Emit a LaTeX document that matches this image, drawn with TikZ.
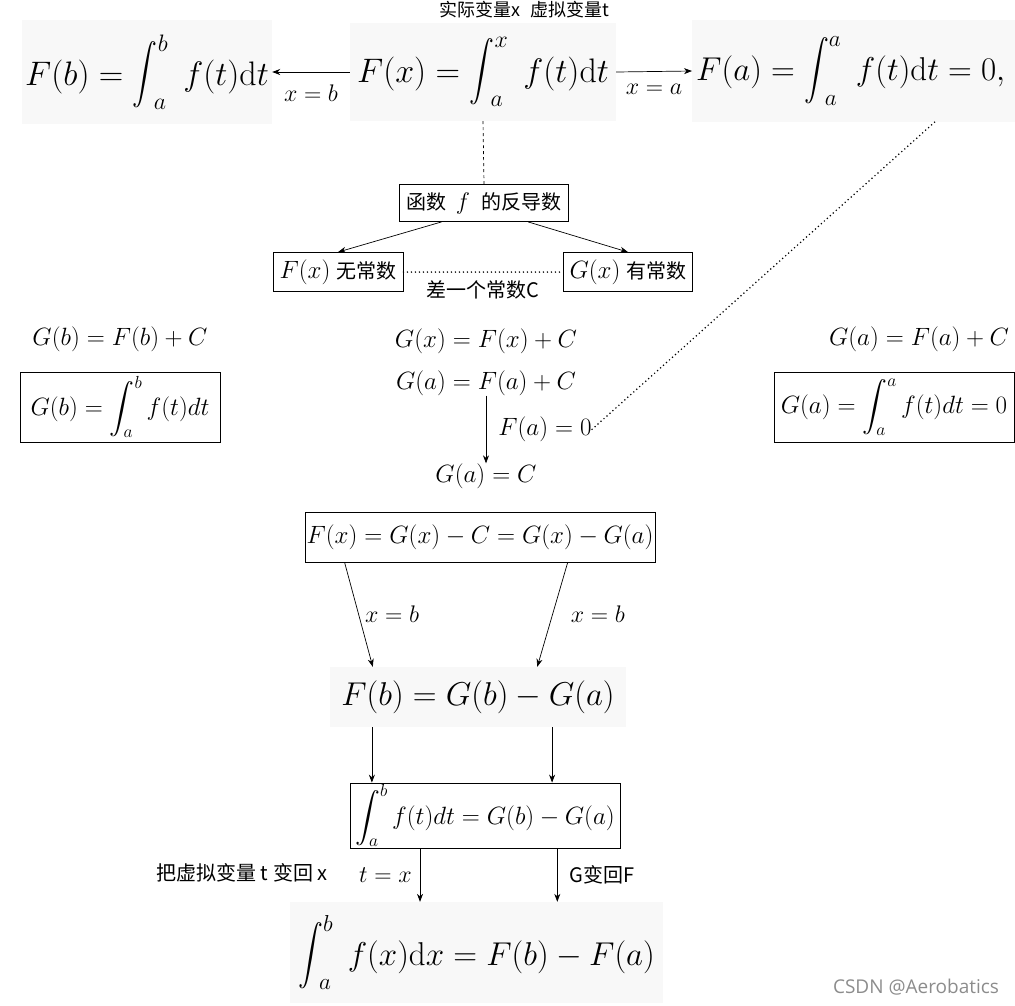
\RequirePackage{fix-cm}
\documentclass[tikz,border=0pt]{standalone}
\usepackage{exscale}
\usepackage{fontspec}
\newfontfamily\cjk{Noto Sans CJK SC}
\newfontfamily\wmfont{Open Sans}
\usetikzlibrary{arrows.meta,calc}
\newcommand\fsz[1]{\fontsize{#1}{#1}\selectfont}
\newcommand\tint{\mathop{\scalebox{1}[1.2]{$\displaystyle\int$}}\nolimits}
\definecolor{gbg}{HTML}{F8F8F8}
\begin{document}
\begin{tikzpicture}[x=1pt,y=-1pt,
  gbox/.style={fill=gbg, draw=none, inner sep=0pt},
  bbox/.style={draw, line width=0.8pt, inner sep=0pt},
  txt/.style={inner sep=0pt},
  arr/.style={-{Stealth[length=8pt,width=6pt]}, line width=0.7pt},
  dotl/.style={line width=1.7pt, dash pattern=on 0pt off 4pt, line cap=round},
  dashl/.style={line width=0.7pt, dash pattern=on 3pt off 3pt}]
\useasboundingbox (0,0) rectangle (1015,1005);

% top row
\node[txt] (top) at (524,10) {\cjk\fsz{18}实际变量x\hspace{10pt}虚拟变量t};
\node[gbox, minimum width=250, minimum height=104] (Fb) at (147,72) {\fsz{34}$\displaystyle F(b)=\tint_{\kern-4pt a}^{b}\; f(t)\mathrm{d}t$};
\node[gbox, minimum width=266, minimum height=98] (Fx) at (483,72) {\fsz{34}$\displaystyle F(x)=\tint_{\kern-4pt a}^{x}\; f(t)\mathrm{d}t$};
\node[gbox, minimum width=323, minimum height=102, anchor=west] (Fa) at (692,71) {};
\node[txt, anchor=west] (Fatxt) at ([xshift=4pt]Fa.west) {\fsz{33}$\displaystyle F(a)=\tint_{\kern-4pt a}^{a}\; f(t)\mathrm{d}t=0,$};

\draw[arr] (Fx.west) -- node[txt, below=12pt] {\fsz{24}$x=b$} (Fb.east);
\draw[arr] (Fx.east) -- node[txt, below=12pt] {\fsz{24}$x=a$} (Fa.west);

% antiderivative
\node[bbox, minimum width=169, minimum height=37] (fn) at (484,203) {\fsz{20}\cjk 函数\hspace{9pt}\fsz{24}$f$\hspace{11pt}\fsz{20}\cjk 的反导数};
\draw[dashl] (Fx.south) -- (fn.north);
\node[bbox, minimum width=130, minimum height=39] (Fbox) at (338,272) {\fsz{25}$F(x)$\hspace{6pt}{\cjk\fsz{20}无常数}};
\node[bbox, minimum width=129, minimum height=39] (Gbox) at (628,272) {\fsz{25}$G(x)$\hspace{6pt}{\cjk\fsz{20}有常数}};
\draw[arr] ($(fn.south west)!0.25!(fn.south east)$) -- (Fbox.north);
\draw[arr] ($(fn.south west)!0.76!(fn.south east)$) -- (Gbox.north);
\draw[dotl] (Fbox.east) -- node[txt, below=8pt] {\cjk\fsz{20}差一个常数C} (Gbox.west);

% left column
\node[txt] (GbF) at (120,339) {\fsz{25}$G(b)=F(b)+C$};
\node[bbox, minimum width=200, minimum height=70] (Gbi) at (120,407) {\fsz{25}$\displaystyle G(b)=\int_a^b f(t)dt$};

% center column
\node[txt] (GxF) at (486,341) {\fsz{25}$G(x)=F(x)+C$};
\node[txt] (GaF) at (486,383) {\fsz{25}$G(a)=F(a)+C$};
\node[txt] (GaC) at (486,476) {\fsz{25}$G(a)=C$};
\draw[arr] (GaF.south) -- node[txt, right=12pt, anchor=west] (Fa0) {\fsz{25}$F(a)=0$} (GaC.north);
\draw[dotl] ($(Fa.south west)!0.75!(Fa.south east)$) -- (Fa0.east);

% right column
\node[txt] (GaFr) at (919,339) {\fsz{25}$G(a)=F(a)+C$};
\node[bbox, minimum width=240, minimum height=70] (Gai) at (894,407) {\fsz{25}$\displaystyle G(a)=\int_a^a f(t)dt=0$};

% lower chain
\node[bbox, minimum width=350, minimum height=50] (FGC) at (480,537) {\fsz{25}$F(x)=G(x)-C=G(x)-G(a)$};
\node[gbox, minimum width=296, minimum height=60] (FbG) at (478,697) {\fsz{33}$F(b)=G(b)-G(a)$};
\draw[arr] ($(FGC.south west)!0.114!(FGC.south east)$) -- node[txt, right=6pt] {\fsz{24}$x=b$} ($(FbG.north west)!0.145!(FbG.north east)$);
\draw[arr] ($(FGC.south west)!0.75!(FGC.south east)$) -- node[txt, right=18pt] {\fsz{24}$x=b$} ($(FbG.north west)!0.70!(FbG.north east)$);

\node[bbox, minimum width=270, minimum height=65] (IG) at (485,815.5) {\fsz{25}$\displaystyle \int_a^b f(t)dt=G(b)-G(a)$};
\coordinate (p1) at ($(FbG.south west)!0.142!(FbG.south east)$);
\coordinate (p2) at ($(FbG.south west)!0.75!(FbG.south east)$);
\draw[arr] (p1) -- (p1 |- IG.north);
\draw[arr] (p2) -- (p2 |- IG.north);

\node[gbox, minimum width=373, minimum height=101] (fin) at (476.5,952.5) {\fsz{33}$\displaystyle \tint_{\kern-4pt a}^{b}\; f(x)\mathrm{d}x=F(b)-F(a)$};
\coordinate (q1) at ($(IG.south west)!0.26!(IG.south east)$);
\coordinate (q2) at ($(IG.south west)!0.767!(IG.south east)$);
\draw[arr] (q1) -- node[txt, left=8pt] {\fsz{24}$t=x$} (q1 |- fin.north);
\draw[arr] (q2) -- node[txt, right=12pt] {\cjk\fsz{20}G变回F} (q2 |- fin.north);
\node[txt] (back) at (242,873) {\cjk\fsz{20}把虚拟变量 t 变回 x};

\node[txt, text=black!45] (wm) at (916,987) {\wmfont\fsz{19}CSDN @Aerobatics};
\end{tikzpicture}
\end{document}
